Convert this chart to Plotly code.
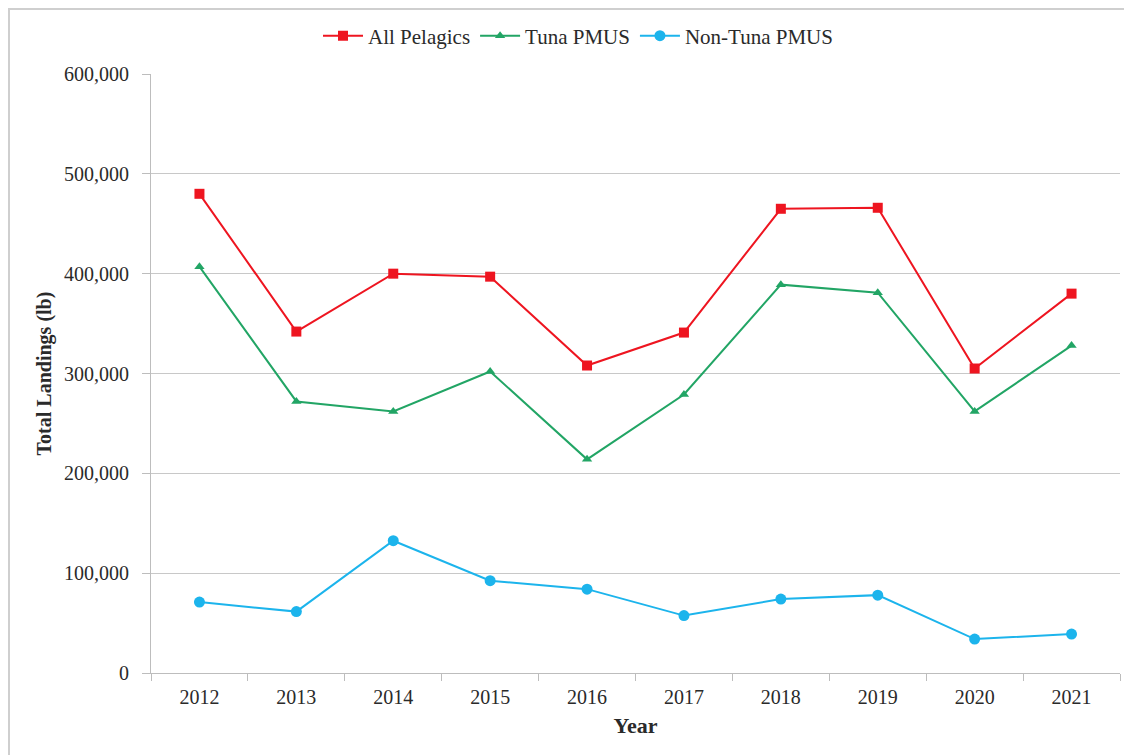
import plotly.graph_objects as go

years = ["2012", "2013", "2014", "2015", "2016", "2017", "2018", "2019", "2020", "2021"]
all_pelagics = [480000, 342000, 400000, 397000, 308000, 341000, 465000, 466000, 305000, 380000]
tuna_pmus = [407000, 272000, 262000, 302000, 214000, 279000, 389000, 381000, 262000, 328000]
non_tuna_pmus = [71000, 61500, 132500, 92500, 84000, 57500, 74000, 78000, 34000, 39000]

FONT = "Liberation Serif, Times New Roman, serif"
TXT = "#2a2a2a"

# page is offset by 8px body margin
OFF = 8
W, H = 1132, 755
L, T = 151 - OFF, 74 - OFF
R = W - (1120 - OFF)
B = H - (673 - OFF)
PW, PH = W - L - R, H - T - B

fig = go.Figure()
fig.add_trace(go.Scatter(x=years, y=all_pelagics, name="All Pelagics", mode="lines+markers",
                         line=dict(color="#EE1520", width=2),
                         marker=dict(symbol="square", size=10, color="#EE1520")))
fig.add_trace(go.Scatter(x=years, y=tuna_pmus, name="Tuna PMUS", mode="lines+markers",
                         line=dict(color="#22A565", width=2),
                         marker=dict(symbol="triangle-up", size=9, color="#22A565")))
fig.add_trace(go.Scatter(x=years, y=non_tuna_pmus, name="Non-Tuna PMUS", mode="lines+markers",
                         line=dict(color="#1CB4EC", width=2),
                         marker=dict(symbol="circle", size=11, color="#1CB4EC")))

fig.update_layout(
    width=W, height=H,
    margin=dict(l=L, r=R, t=T, b=B, autoexpand=False),
    paper_bgcolor="white", plot_bgcolor="white",
    font=dict(family=FONT, size=20, color=TXT),
    showlegend=True,
    legend=dict(orientation="h", x=(578 - OFF - L) / PW, xanchor="center",
                y=1 + (T - (36 - OFF)) / PH, yanchor="middle", bgcolor="rgba(0,0,0,0)",
                font=dict(family=FONT, size=21, color=TXT), itemwidth=40, tracegroupgap=0),
    xaxis=dict(
        type="category", range=[-0.5, len(years) - 0.5],
        showgrid=False, showline=True, linecolor="#BDBDBD", linewidth=1,
        ticks="outside", tickson="boundaries", ticklen=7, tickcolor="#BDBDBD",
        ticklabelstandoff=6,
        tickfont=dict(family=FONT, size=20, color=TXT), automargin=False,
        title=dict(text="<b>Year</b>", font=dict(family=FONT, size=22, color=TXT), standoff=10),
    ),
    yaxis=dict(
        range=[0, 600000], dtick=100000, tickformat=",d",
        showgrid=True, gridcolor="#C8C8C8", gridwidth=1,
        showline=True, linecolor="#BDBDBD", linewidth=1,
        ticks="outside", ticklen=8, tickcolor="#BDBDBD",
        ticklabelstandoff=9,
        zeroline=False, automargin=False,
        tickfont=dict(family=FONT, size=20, color=TXT),
        title=dict(text="<b>Total Landings (lb)</b>", font=dict(family=FONT, size=20, color=TXT), standoff=7),
    ),
)

# outer chart border (top and left visible in the reference)
fig.add_shape(type="rect", xref="paper", yref="paper",
              x0=(1 - L) / PW, x1=(W + 5 - L) / PW,
              y0=-(B + 10) / PH, y1=1 + (T - 1) / PH,
              line=dict(color="#CFCFCF", width=2), fillcolor="rgba(0,0,0,0)", layer="below")

fig.write_html("out.html")
